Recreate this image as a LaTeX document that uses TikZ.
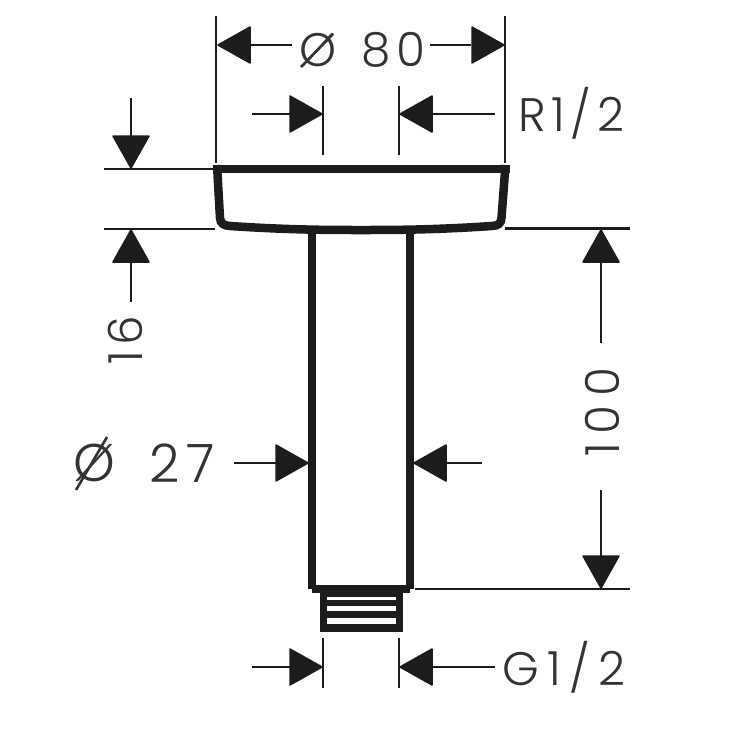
\documentclass[tikz,border=0pt]{standalone}
\usepackage{fontspec}
\setmainfont{Poppins Light}[LetterSpace=6]
\newfontfamily\wideA{Poppins Light}[LetterSpace=12]
\newfontfamily\wideB{Poppins Light}[LetterSpace=18]
\definecolor{ink}{HTML}{1C1C1C}
\definecolor{txt}{HTML}{333333}
\tikzset{
  x=1pt,y=-1pt,
  dimline/.style={draw=ink,line width=2.4pt},
  wall/.style={draw=ink,line width=8.5pt,line join=miter},
  slash/.style={draw=txt,line width=2.6pt},
  lbl/.style={text=txt,inner sep=0pt,font=\fontsize{47}{47}\selectfont\wideA},
  lblbig/.style={text=txt,inner sep=0pt,font=\fontsize{53}{53}\selectfont\wideA},
  head/.pic={\fill[ink,draw=ink,line width=1.5pt,line join=round] (0,0) -- (32,-18) -- (32,18) -- cycle;}
}
\begin{document}
\begin{tikzpicture}
\useasboundingbox (0,0) rectangle (750,750);
% extension lines
\draw[dimline] (216,16) -- (216,163);
\draw[dimline] (505,16) -- (505,163);
\draw[dimline] (323,86) -- (323,155);
\draw[dimline] (399,86) -- (399,155);
\draw[dimline] (104,169) -- (215,169);
\draw[dimline] (104,229) -- (215,229);
\draw[dimline] (505,228.5) -- (630,228.5);
\draw[dimline] (415,589) -- (630,589);
\draw[dimline] (323,638) -- (323,688);
\draw[dimline] (399,638) -- (399,688);
% flange
\draw[wall] (213,169) -- (509.5,169);
\draw[wall] (217,165) -- (220,218) .. controls (220.5,224) and (224,225.5) .. (230,226) .. controls (290,230) and (330,230) .. (361,230) .. controls (392,230) and (432,230) .. (492,226) .. controls (498,225.5) and (501,224) .. (501.5,218) -- (505.5,165);
% stem
\draw[draw=ink,line width=8pt] (312,230) -- (312,588);
\draw[draw=ink,line width=7.5pt] (410,230) -- (410,588);
% collar and thread
\fill[ink] (308,584.5) rectangle (414,588.5);
\fill[ink] (312,588) rectangle (410,592.5);
\fill[ink] (320,592) rectangle (403,632);
\fill[white] (327,596.5) rectangle (396,599.5);
\fill[white] (327,606) rectangle (396,611);
\fill[white] (327,618) rectangle (396,624);
% dimension lines
\draw[dimline] (250,45) -- (292,45);
\draw[dimline] (430,45) -- (471,45);
\draw[dimline] (252,114) -- (291,114);
\draw[dimline] (431,114) -- (495,114);
\draw[dimline] (131,98) -- (131,137);
\draw[dimline] (131,261) -- (131,302);
\draw[dimline] (601,261) -- (601,343);
\draw[dimline] (601,490) -- (601,557);
\draw[dimline] (234,463) -- (280,463);
\draw[dimline] (445,463) -- (482,463);
\draw[dimline] (252,667) -- (292,667);
\draw[dimline] (431,667) -- (495,667);
% arrowheads
\pic at (218,45) {head};
\pic[rotate=180] at (504,45) {head};
\pic[rotate=180] at (322,114) {head};
\pic at (400,114) {head};
\pic[rotate=90] at (131,168) {head};
\pic[rotate=-90] at (131,230) {head};
\pic[rotate=-90] at (601,230) {head};
\pic[rotate=90] at (601,588) {head};
\pic[rotate=180] at (308,463) {head};
\pic at (414,463) {head};
\pic[rotate=180] at (322,667) {head};
\pic at (400,667) {head};
% labels
\node[lbl] (d80sym) at (318,50) {Ø};
\draw[slash] (301,67) -- (333,34);
\node[lbl] (d80) at (393,50) {80};
\node[lbl] (r12) at (571,113) {R1/2};
\node[lbl,rotate=90] (h16) at (125,340) {16};
\node[lbl,font=\fontsize{47}{47}\selectfont\wideB,rotate=90] (h100) at (602,412) {100};
\node[lblbig] (d27sym) at (94,463) {Ø};
\draw[slash] (76,490) -- (107,437);
\node[lblbig] (d27) at (182,463) {27};
\node[lbl,font=\fontsize{47}{47}\selectfont\wideB] (g12) at (564,667) {G1/2};
\end{tikzpicture}
\end{document}
